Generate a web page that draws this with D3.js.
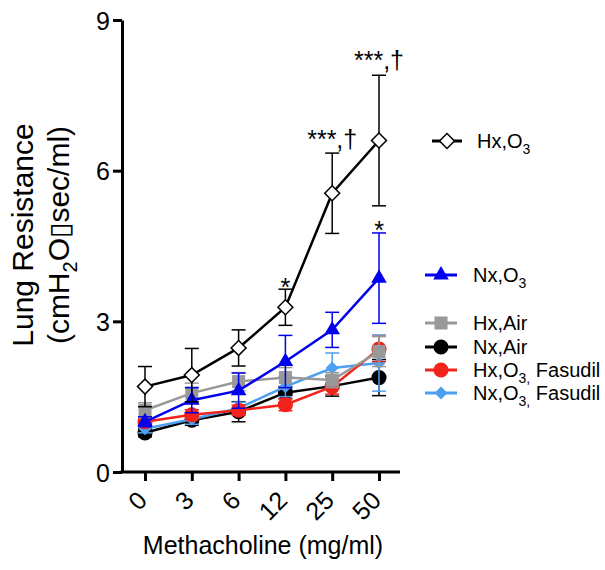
<!DOCTYPE html>
<html><head><meta charset="utf-8">
<script src="https://cdn.jsdelivr.net/npm/d3@7"></script>
<style>body{margin:0;background:#fff}svg{display:block}text{font-family:"Liberation Sans",Arial,sans-serif}</style>
</head><body>
<svg id="c" width="605" height="570"></svg>
<script>
const categories = ["0","3","6","12","25","50"];
const yTicks = [0,3,6,9];

const hxO3      = [1.70, 1.93, 2.47, 3.28, 5.55, 6.60];
const hxO3Err   = [0.40, 0.53, 0.36, 0.36, 0.80, 1.30];
const nxO3      = [1.00, 1.43, 1.62, 2.20, 2.83, 3.86];
const nxO3Err   = [0.10, 0.25, 0.35, 0.52, 0.35, 0.90];
const hxAir     = [1.23, 1.57, 1.80, 1.88, 1.83, 2.40];
const hxAirErr  = [0.15, 0.20, 0.18, 0.20, 0.15, 0.30];
const nxAir     = [0.78, 1.03, 1.20, 1.58, 1.71, 1.88];
const nxAirErr  = [0.08, 0.10, 0.20, 0.12, 0.20, 0.36];
const hxO3Fas   = [1.00, 1.14, 1.23, 1.34, 1.70, 2.45];
const hxO3FasErr= [0.08, 0.10, 0.10, 0.12, 0.15, 0.25];
const nxO3Fas   = [0.86, 1.05, 1.27, 1.70, 2.07, 2.17];
const nxO3FasErr= [0.08, 0.10, 0.12, 0.20, 0.30, 0.56];

const annotations = [
  {cat:"12", text:"*", y:3.64},
  {cat:"25", text:"***,†", y:6.33},
  {cat:"50", text:"***,†", y:7.91},
  {cat:"50", text:"*", y:4.77}
];

const svg = d3.select("#c");
const x = d3.scalePoint().domain(categories).range([145,379]);
const y = d3.scaleLinear().domain([0,9]).range([472,20]);

// series definitions (draw order bottom->top)
const series = [
  {name:"Nx,Air", vals:nxAir, err:nxAirErr, color:"#000000", shape:"circle"},
  {name:"Nx,O3,Fasudil", vals:nxO3Fas, err:nxO3FasErr, color:"#4f9ff0", shape:"diamondS"},
  {name:"Hx,O3,Fasudil", vals:hxO3Fas, err:hxO3FasErr, color:"#f2231a", shape:"circle"},
  {name:"Hx,Air", vals:hxAir, err:hxAirErr, color:"#999999", shape:"square"},
  {name:"Nx,O3", vals:nxO3, err:nxO3Err, color:"#0000ee", shape:"triangle"},
  {name:"Hx,O3", vals:hxO3, err:hxO3Err, color:"#000000", shape:"diamond", open:true}
];

function symPath(shape){
  if(shape==="circle") return d3.symbol(d3.symbolCircle,180)();
  if(shape==="square") return d3.symbol(d3.symbolSquare,170)();
  if(shape==="triangle") return d3.symbol(d3.symbolTriangle,105)();
  if(shape==="diamond") return d3.symbol(d3.symbolSquare,112)();
  if(shape==="diamondS") return d3.symbol(d3.symbolSquare,85)();
}
function symTransform(shape, px, py){
  const rot = (shape==="diamond"||shape==="diamondS") ? " rotate(45)" : "";
  return `translate(${px},${py})${rot}`;
}

const line = d3.line().x((d,i)=>x(categories[i])).y(d=>y(d));

series.forEach(s=>{
  const g = svg.append("g");
  // error bars
  s.vals.forEach((v,i)=>{
    const cx = x(categories[i]);
    const eg = g.append("g").attr("stroke", s.color).attr("stroke-width",1.5);
    eg.append("line").attr("x1",cx).attr("x2",cx).attr("y1",y(v+s.err[i])).attr("y2",y(v-s.err[i]));
    eg.append("line").attr("x1",cx-7).attr("x2",cx+7).attr("y1",y(v+s.err[i])).attr("y2",y(v+s.err[i]));
    eg.append("line").attr("x1",cx-7).attr("x2",cx+7).attr("y1",y(v-s.err[i])).attr("y2",y(v-s.err[i]));
  });
  g.append("path").attr("d", line(s.vals)).attr("fill","none").attr("stroke", s.color).attr("stroke-width",2.5);
  s.vals.forEach((v,i)=>{
    g.append("path").attr("d", symPath(s.shape))
      .attr("transform", symTransform(s.shape, x(categories[i]), y(v)))
      .attr("fill", s.open ? "#fff" : s.color)
      .attr("stroke", s.open ? "#000" : "none")
      .attr("stroke-width", 1.5);
  });
});

// axes
const yAxis = d3.axisLeft(y).tickValues(yTicks).tickSize(9).tickSizeOuter(0).tickPadding(3).tickFormat(d3.format("d"));
const ya = svg.append("g").attr("transform","translate(122,0)").call(yAxis);
ya.select(".domain").attr("stroke-width",3);
ya.selectAll(".tick line").attr("stroke-width",3);
ya.selectAll(".tick text").attr("font-size",25).attr("font-family","Liberation Sans, Arial, sans-serif").attr("fill","#000").attr("dy","0.36em");

svg.append("line").attr("x1",120.5).attr("x2",400).attr("y1",y(0)).attr("y2",y(0)).attr("stroke","#000").attr("stroke-width",3);
const xAxis = d3.axisBottom(x).tickSize(9).tickSizeOuter(0).tickPadding(0);
const xa = svg.append("g").attr("transform",`translate(0,${y(0)})`).call(xAxis);
xa.select(".domain").remove();
xa.selectAll(".tick line").attr("stroke-width",3);
xa.selectAll(".tick text").attr("font-size",25).attr("font-family","Liberation Sans, Arial, sans-serif").attr("fill","#000")
  .attr("text-anchor","end").attr("dy",0).attr("y",0)
  .attr("transform","translate(3,30) rotate(-45)");

// axis titles
svg.append("text").attr("x",263).attr("y",554).attr("text-anchor","middle").attr("font-size",25).text("Methacholine (mg/ml)");
const yt = svg.append("g").attr("transform","translate(33,235) rotate(-90)");
yt.append("text").attr("text-anchor","middle").attr("font-size",30).text("Lung Resistance");
const t2 = yt.append("text").attr("text-anchor","middle").attr("font-size",30).attr("y",36);
t2.append("tspan").text("(cmH");
t2.append("tspan").attr("font-size",20).attr("dy",8).text("2");
t2.append("tspan").attr("dy",-8).text("O");
t2.append("tspan").attr("font-family","DejaVu Sans").attr("font-size",28).text("▯");
t2.append("tspan").text("sec/ml)");

// annotations
annotations.forEach(a=>{
  svg.append("text").attr("x",x(a.cat)).attr("y",y(a.y)-6 + (a.text==="*"?13:0))
    .attr("text-anchor","middle").attr("font-size",25).text(a.text);
});

// legend
const legend = [
  {name:"Hx,O3", s:series[5], y:141, x1:432, x2:462, tx:477},
  {name:"Nx,O3", s:series[4], y:275, x1:425, x2:457, tx:473},
  {name:"Hx,Air", s:series[3], y:323, x1:425, x2:457, tx:473},
  {name:"Nx,Air", s:series[0], y:347, x1:425, x2:457, tx:473},
  {name:"Hx,O3,Fasudil", s:series[2], y:370, x1:425, x2:457, tx:473},
  {name:"Nx,O3,Fasudil", s:series[1], y:393, x1:425, x2:457, tx:473}
];
const labelParts = {
  "Hx,O3":[["Hx,O",0],["3",1]],
  "Nx,O3":[["Nx,O",0],["3",1]],
  "Hx,Air":[["Hx,Air",0]],
  "Nx,Air":[["Nx,Air",0]],
  "Hx,O3,Fasudil":[["Hx,O",0],["3,",1],[" Fasudil",0]],
  "Nx,O3,Fasudil":[["Nx,O",0],["3,",1],[" Fasudil",0]]
};
legend.forEach(l=>{
  const g = svg.append("g");
  g.append("line").attr("x1",l.x1).attr("x2",l.x2).attr("y1",l.y).attr("y2",l.y).attr("stroke",l.s.color).attr("stroke-width",3);
  g.append("path").attr("d",symPath(l.s.shape)).attr("transform",symTransform(l.s.shape,(l.x1+l.x2)/2,l.y))
    .attr("fill", l.s.open?"#fff":l.s.color).attr("stroke", l.s.open?"#000":"none").attr("stroke-width",1.5);
  const t = g.append("text").attr("x",l.tx).attr("y",l.y+7).attr("font-size",20);
  let sub=false;
  labelParts[l.name].forEach(([txt,isSub])=>{
    const ts = t.append("tspan").text(txt);
    if(isSub && !sub){ ts.attr("font-size",14).attr("dy",6); sub=true; }
    else if(!isSub && sub){ ts.attr("dy",-6); sub=false; }
  });
});
</script>
</body></html>
